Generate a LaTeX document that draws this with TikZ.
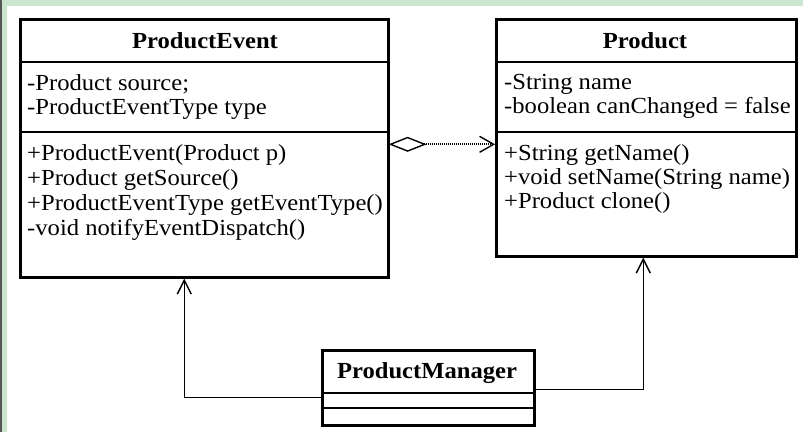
\documentclass[tikz,border=0pt]{standalone}
\usepackage{fontspec}
\setmainfont{Liberation Serif}[FakeStretch=1.07]
\usetikzlibrary{arrows.meta}
\definecolor{bggreen}{RGB}{202,230,206}
\definecolor{bgdark}{RGB}{85,88,86}
\begin{document}
\begin{tikzpicture}[x=1pt,y=-1pt,
  classbox/.style={draw=black,line width=2.6pt,inner sep=0pt,anchor=north west},
  divider/.style={line width=2.6pt},
  txt/.style={inner sep=0pt,anchor=base west,font=\fontsize{23}{27}\selectfont},
  title/.style={inner sep=0pt,anchor=base,font=\fontsize{23}{27}\selectfont\bfseries},
  assoc/.style={line width=1.4pt,-{Straight Barb[length=14pt,width=14pt,line width=1.4pt]}},
  agg/.style={line width=2.2pt,dash pattern=on 1.2pt off 0.8pt,
     {Diamond[open,length=38pt,width=15pt,line width=1.4pt,sep=-1pt]}-{Straight Barb[length=14pt,width=16pt,line width=1.4pt,sep=0pt]}}
]
\useasboundingbox (0,0) rectangle (803,432);
\fill[white] (0,0) rectangle (803,432);
\fill[bggreen] (2,0) rectangle (7,432);
\fill[bggreen] (2,0) rectangle (803,6);
\fill[bgdark] (0,0) rectangle (2,432);

% ProductEvent
\node[classbox,minimum width=368pt,minimum height=258pt] (pe) at (19,18) {};
\draw[divider] (pe.west |- 0,62) coordinate (pe1) -- (pe.east |- 0,62) coordinate (pe1e);
\draw[divider] (pe.west |- 0,132) coordinate (pe2) -- (pe.east |- 0,132) coordinate (pe2e);
\node[title] (pet) at (205,48) {ProductEvent};
\node[txt] (pea1) at (27,90) {-Product source;};
\node[txt] (pea2) at (27,114) {-ProductEventType type};
\node[txt] (pem1) at (27,160) {+ProductEvent(Product p)};
\node[txt] (pem2) at (27,185) {+Product getSource()};
\node[txt] (pem3) at (27,210) {+ProductEventType getEventType()};
\node[txt] (pem4) at (27,235) {-void notifyEventDispatch()};

% Product
\node[classbox,minimum width=300pt,minimum height=237pt] (p) at (495,18) {};
\draw[divider] (p.west |- 0,62) coordinate (p1) -- (p.east |- 0,62) coordinate (p1e);
\draw[divider] (p.west |- 0,132) coordinate (p2) -- (p.east |- 0,132) coordinate (p2e);
\node[title] (pt) at (645,48) {Product};
\node[txt] (pa1) at (504,89) {-String name};
\node[txt] (pa2) at (504,113) {-boolean canChanged = false};
\node[txt] (pm1) at (504,160) {+String getName()};
\node[txt] (pm2) at (504,184) {+void setName(String name)};
\node[txt] (pm3) at (504,208) {+Product clone()};

% ProductManager
\node[classbox,minimum width=212pt,minimum height=75pt] (pm) at (321,349) {};
\draw[divider] (pm.west |- 0,393) coordinate (pm1) -- (pm.east |- 0,393) coordinate (pm1e);
\draw[divider] (pm.west |- 0,408) coordinate (pm2) -- (pm.east |- 0,408) coordinate (pm2e);
\node[title] (pmt) at (427,378) {ProductManager};

% connectors
\draw[agg] ([yshift=4pt]pe.east) -- ([yshift=4pt]pe.east -| p.west);
\draw[assoc] ([yshift=-9.5pt]pm.west) -| ([xshift=-20pt]pe.south);
\draw[assoc] ([yshift=-1.5pt]pm.east) -| ([xshift=-3pt]p.south);
\end{tikzpicture}
\end{document}
